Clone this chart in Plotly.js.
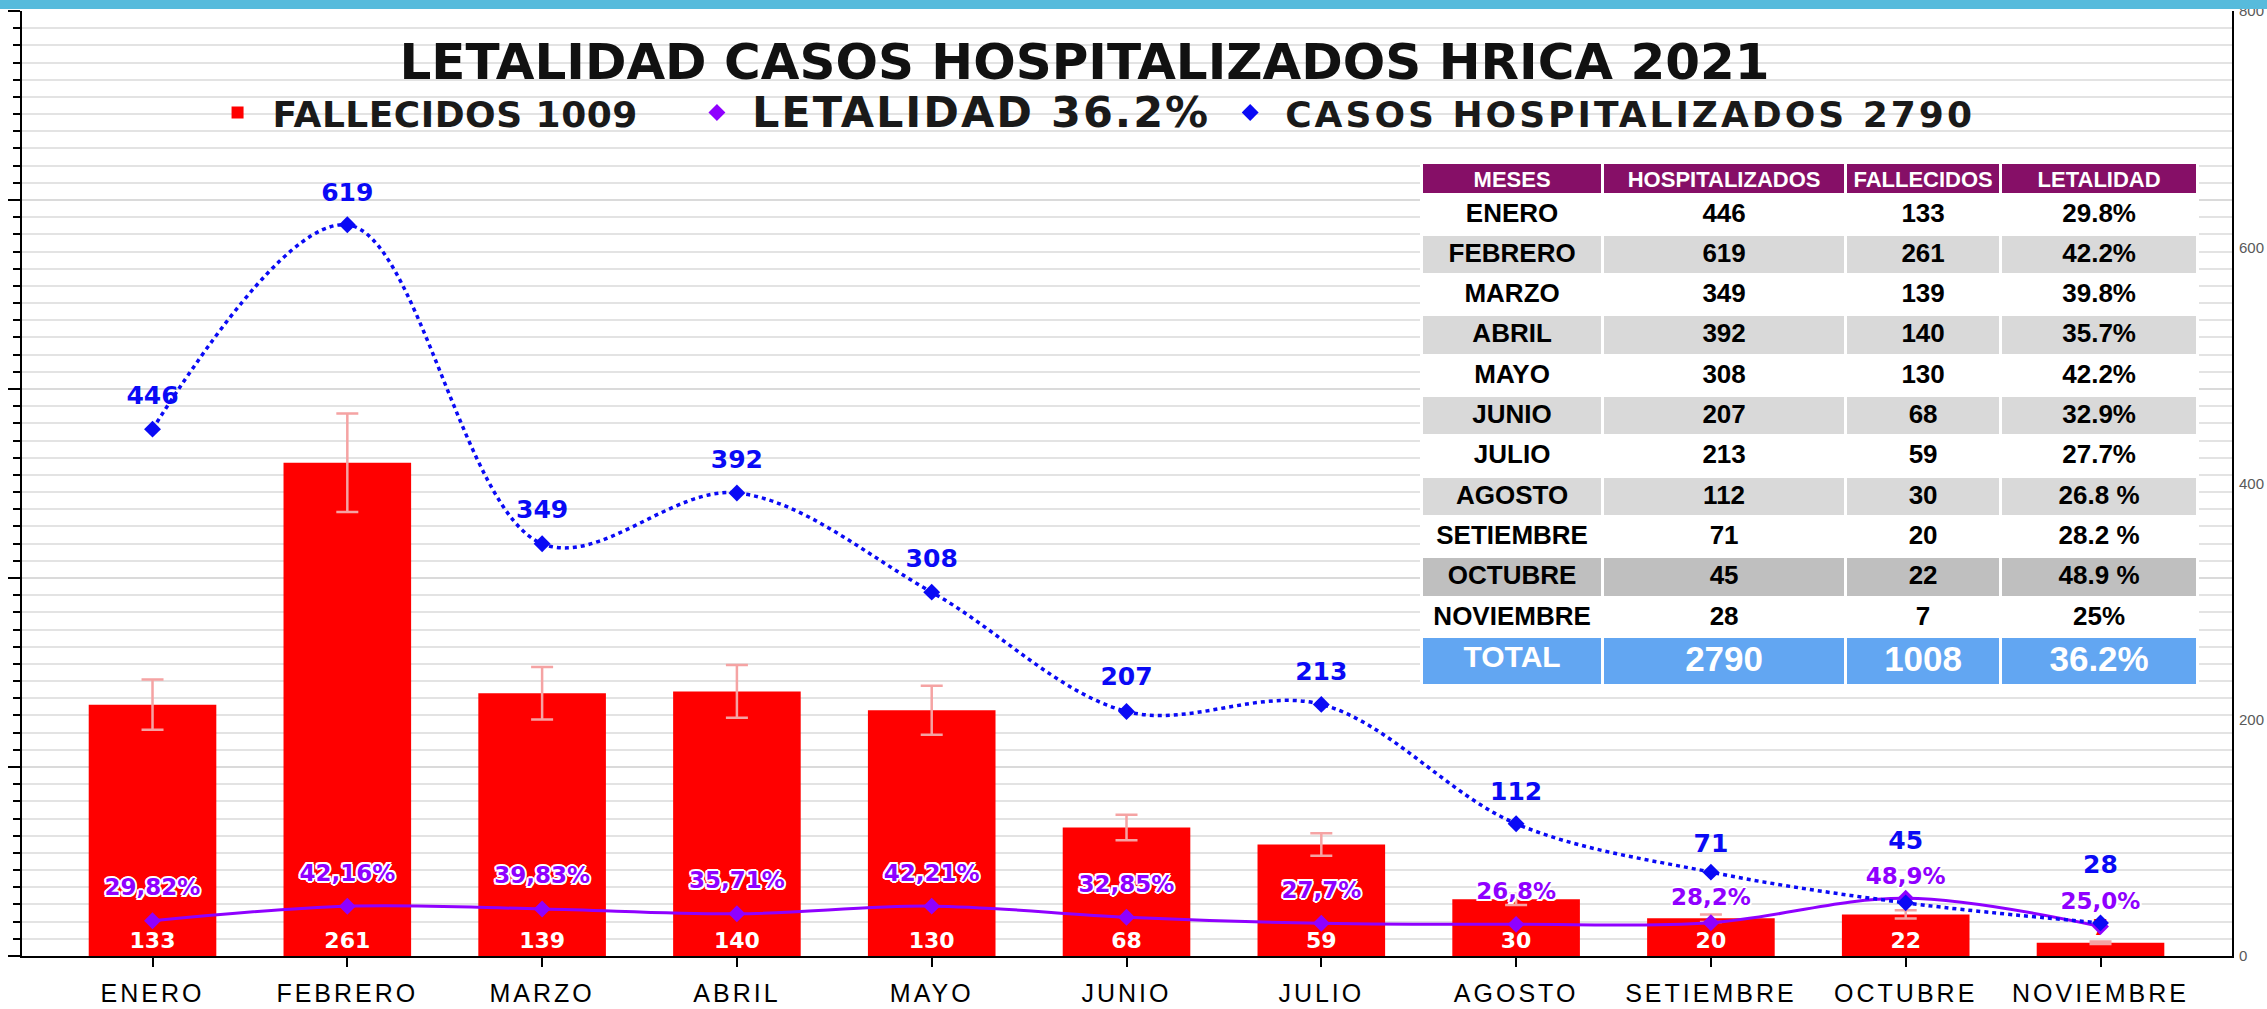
<!DOCTYPE html>
<html>
<head>
<meta charset="utf-8">
<script src="https://cdn.plot.ly/plotly-3.0.1.min.js"></script>
<style>
html,body{margin:0;padding:0;background:#ffffff;}
#chart{width:2267px;height:1009px;}
</style>
</head>
<body>
<div id="chart"></div>
<script>
// ---------- DATA ----------
const months = ['ENERO','FEBRERO','MARZO','ABRIL','MAYO','JUNIO','JULIO','AGOSTO','SETIEMBRE','OCTUBRE','NOVIEMBRE'];
const fallecidos = [133,261,139,140,130,68,59,30,20,22,7];
const hospitalizados = [446,619,349,392,308,207,213,112,71,45,28];
const letalidad = [29.82,42.16,39.83,35.71,42.21,32.85,27.7,26.8,28.2,48.9,25.0];
const letalidadLabels = ['29,82%','42,16%','39,83%','35,71%','42,21%','32,85%','27,7%','26,8%','28,2%','48,9%','25,0%'];
const legendNames = ['FALLECIDOS 1009','LETALIDAD 36.2%','CASOS HOSPITALIZADOS 2790'];
const chartTitle = 'LETALIDAD CASOS HOSPITALIZADOS HRICA 2021';
const rightTicks = [0,200,400,600,800];
const tableHeader = ['MESES','HOSPITALIZADOS','FALLECIDOS','LETALIDAD'];
const tableLetalidad = ['29.8%','42.2%','39.8%','35.7%','42.2%','32.9%','27.7%','26.8 %','28.2 %','48.9 %','25%'];
const tableTotals = ['TOTAL','2790','1008','36.2%'];

// ---------- STYLE ----------
const RED = '#FF0000', PURPLE = '#8F00FF', BLUE = '#0A0AF5';
const BOLD = 'DejaVu Sans';
const halo = '2px 0 0 #fff, -2px 0 0 #fff, 0 2px 0 #fff, 0 -2px 0 #fff, 1.5px 1.5px 0 #fff, -1.5px -1.5px 0 #fff, 1.5px -1.5px 0 #fff, -1.5px 1.5px 0 #fff';
const sp = (t, ls, fs, pad) => '<span style="letter-spacing:' + ls + 'px' + (fs ? ';font-size:' + fs + 'px' : '') + '">' + t + (pad ? '\u00a0'.repeat(pad) : '') + '</span>';
const invisible = {color: 'rgba(0,0,0,0)', line: {width: 0, color: 'rgba(0,0,0,0)'}};

const rowFill = ['#FFFFFF','#D9D9D9','#FFFFFF','#D9D9D9','#FFFFFF','#D9D9D9','#FFFFFF','#D9D9D9','#FFFFFF','#BFBFBF','#FFFFFF'];

const traces = [
  {
    type: 'bar', x: months, y: fallecidos, name: sp(legendNames[0], 0.5, 0, 3),
    legendrank: 1, yaxis: 'y',
    marker: {color: RED},
    error_y: {type: 'percent', value: 10, color: '#F5A3A3', thickness: 2.5, width: 11},
    text: fallecidos.map(String),
    textposition: fallecidos.map(v => v < 15 ? 'outside' : 'inside'),
    insidetextanchor: 'start',
    constraintext: 'none',
    cliponaxis: false,
    insidetextfont: {family: BOLD, size: 22, weight: 'bold', color: '#FFFFFF'},
    outsidetextfont: {family: BOLD, size: 22, weight: 'bold', color: RED},
    hoverinfo: 'x+y'
  },
  {
    type: 'scatter', mode: 'lines', x: months, y: letalidad, yaxis: 'y2',
    line: {color: PURPLE, width: 3, shape: 'spline', smoothing: 1},
    showlegend: false, hoverinfo: 'skip'
  },
  {
    type: 'scatter', mode: 'lines', x: months, y: hospitalizados, yaxis: 'y2',
    line: {color: BLUE, width: 3.5, dash: '4px,4px', shape: 'spline', smoothing: 1},
    showlegend: false, hoverinfo: 'skip'
  },
  {
    type: 'scatter', mode: 'markers', x: months, y: letalidad, yaxis: 'y2',
    name: sp(legendNames[1], 2, 43), legendrank: 2,
    marker: {symbol: 'diamond', size: 13, color: PURPLE}
  },
  {
    type: 'scatter', mode: 'markers', x: months, y: hospitalizados, yaxis: 'y2',
    name: sp(legendNames[2], 3), legendrank: 3,
    marker: {symbol: 'diamond', size: 13, color: BLUE}
  },
  {
    type: 'scatter', mode: 'markers+text', x: months, y: letalidad, yaxis: 'y2',
    text: letalidadLabels, textposition: 'top center', cliponaxis: false,
    marker: Object.assign({size: [30,30,30,30,30,30,30,29,17,12,17]}, invisible),
    textfont: {family: BOLD, size: 23, weight: 'bold', color: PURPLE, shadow: halo},
    showlegend: false, hoverinfo: 'skip'
  },
  {
    type: 'scatter', mode: 'markers+text', x: months, y: hospitalizados, yaxis: 'y2',
    text: hospitalizados.map(String), textposition: 'top center', cliponaxis: false,
    marker: Object.assign({size: [29,27,29,28,29,30,28,27,21,74,68]}, invisible),
    textfont: {family: BOLD, size: 25, weight: 'bold', color: BLUE},
    showlegend: false, hoverinfo: 'skip'
  },
  {
    type: 'table',
    domain: {x: [0.6333, 0.9848], y: [0.30, 0.8402]},
    columnwidth: [181, 243, 155, 197],
    header: {
      values: tableHeader, height: 32, align: 'center',
      fill: {color: '#860F67'},
      line: {color: '#FFFFFF', width: 3},
      font: {family: 'Liberation Sans', size: 22, weight: 'bold', color: '#FFFFFF'}
    },
    cells: {
      values: [months, hospitalizados, fallecidos, tableLetalidad],
      height: 40.3, align: 'center',
      fill: {color: [rowFill, rowFill, rowFill, rowFill]},
      line: {color: '#FFFFFF', width: 3},
      font: {family: 'Liberation Sans', size: 26, weight: 'bold', color: '#000000'}
    }
  },
  {
    type: 'table',
    domain: {x: [0.6333, 0.9848], y: [0.05, 0.3376]},
    columnwidth: [181, 243, 155, 197],
    header: {
      values: tableTotals, height: 49, align: 'center',
      fill: {color: '#62A6F2'},
      line: {color: '#FFFFFF', width: 3},
      font: {family: 'Liberation Sans', size: [30, 35, 35, 35], weight: 'bold', color: '#FFFFFF'}
    },
    cells: {values: [[], [], [], []]}
  }
];

const layout = {
  width: 2267, height: 1009,
  margin: {l: 22, r: 35, t: 11, b: 53, pad: 0},
  paper_bgcolor: '#FFFFFF', plot_bgcolor: '#FFFFFF',
  title: {
    text: chartTitle,
    font: {family: BOLD, size: 50, weight: 'bold', color: '#111111'},
    x: 0.4808, xref: 'paper', xanchor: 'center',
    y: 1 - 61 / 1009, yref: 'container', yanchor: 'middle'
  },
  bargap: 0.345,
  showlegend: true,
  legend: {
    orientation: 'h', x: 0.0817, xanchor: 'left', y: 0.8925, yanchor: 'middle',
    bgcolor: 'rgba(0,0,0,0)', borderwidth: 0, itemwidth: 60,
    font: {family: BOLD, size: 36, weight: 'bold', color: '#1A1A1A'},
    traceorder: 'normal'
  },
  xaxis: {
    type: 'category', range: [-0.67, 10.675],
    tickmode: 'array', tickvals: months, ticktext: months.map(m => sp(m, 3)),
    showline: true, linecolor: '#000000', linewidth: 2,
    ticks: 'outside', ticklen: 9, tickwidth: 2, tickcolor: '#000000',
    tickfont: {family: 'Liberation Sans', size: 25, color: '#000000'},
    ticklabelstandoff: 5,
    showgrid: false, zeroline: false
  },
  yaxis: {
    range: [0, 500], tick0: 0, dtick: 100, showticklabels: false,
    ticks: 'outside', ticklen: 12, tickwidth: 2, tickcolor: '#000000',
    showline: true, linecolor: '#000000', linewidth: 2,
    showgrid: true, gridcolor: '#DADADA', gridwidth: 2, zeroline: false,
    minor: {dtick: 100 / 11, ticks: 'outside', ticklen: 7, tickwidth: 2, tickcolor: '#000000',
            showgrid: true, gridcolor: '#E3E3E3', gridwidth: 2}
  },
  yaxis2: {
    overlaying: 'y', side: 'right', range: [0, 800],
    tickmode: 'array', tickvals: rightTicks, ticks: '',
    showline: true, linecolor: '#000000', linewidth: 2,
    showgrid: false, zeroline: false,
    tickfont: {family: 'Liberation Sans', size: 15, color: '#595959'},
    ticklabelstandoff: 2
  },
  yaxis3: {
    overlaying: 'y', side: 'left', range: [0, 500], tick0: 0, dtick: 100,
    showticklabels: false, ticks: 'inside', ticklen: 11, tickwidth: 2, tickcolor: '#000000',
    showgrid: false, zeroline: false, showline: false,
    minor: {dtick: 100 / 11, ticks: 'inside', ticklen: 6, tickwidth: 2, tickcolor: '#000000', showgrid: false}
  },
  shapes: [
    {type: 'rect', xref: 'paper', yref: 'paper', x0: -0.02, x1: 1.02, y0: 1.0021, y1: 1.02,
     fillcolor: '#57BBDC', line: {width: 0}, layer: 'above'}
  ]
};

Plotly.newPlot('chart', traces, layout, {displayModeBar: false, responsive: false});
</script>
</body>
</html>
